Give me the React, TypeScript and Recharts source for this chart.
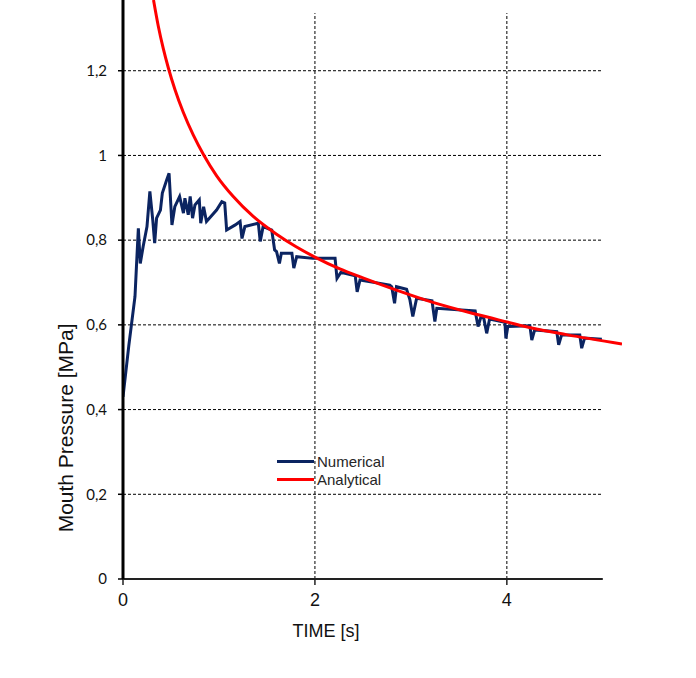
import React from "react";
import { LineChart, Line, XAxis, YAxis, ReferenceLine, Legend } from "recharts";

const numericalX = [
  0.0, 0.06, 0.125, 0.14, 0.16, 0.18, 0.21, 0.25, 0.28, 0.31, 0.33, 0.35, 0.39, 0.41, 0.455, 0.48,
  0.51, 0.54, 0.59, 0.63, 0.645, 0.68, 0.7, 0.725, 0.75, 0.795, 0.81, 0.84, 0.87, 0.975, 1.03, 1.06,
  1.08, 1.17, 1.22, 1.24, 1.27, 1.41, 1.43, 1.46, 1.55, 1.58, 1.6, 1.63, 1.65, 1.76, 1.78, 1.81,
  1.98, 2.21, 2.23, 2.27, 2.42, 2.44, 2.47, 2.78, 2.8, 2.83, 2.85, 2.955, 2.99, 3.02, 3.06, 3.22,
  3.25, 3.27, 3.67, 3.7, 3.73, 3.76, 3.79, 3.82, 3.98, 3.99, 4.01, 4.24, 4.26, 4.29, 4.52, 4.54,
  4.57, 4.76, 4.78, 4.81, 4.99,
];
const numericalY = [
  0.43, 0.55, 0.667, 0.737, 0.828, 0.745, 0.785, 0.832, 0.915, 0.848, 0.793, 0.852, 0.871, 0.911, 0.942, 0.958,
  0.836, 0.879, 0.903, 0.864, 0.899, 0.86, 0.903, 0.852, 0.883, 0.895, 0.84, 0.879, 0.844, 0.871, 0.891, 0.888,
  0.824, 0.836, 0.844, 0.804, 0.832, 0.84, 0.797, 0.832, 0.824, 0.777, 0.773, 0.745, 0.769, 0.769, 0.734, 0.761,
  0.757, 0.757, 0.71, 0.724, 0.716, 0.678, 0.706, 0.694, 0.69, 0.651, 0.69, 0.684, 0.659, 0.62, 0.663, 0.657,
  0.608, 0.639, 0.633, 0.596, 0.619, 0.615, 0.58, 0.614, 0.606, 0.568, 0.596, 0.598, 0.564, 0.588, 0.584, 0.553,
  0.576, 0.576, 0.545, 0.569, 0.566,
];

const analyticalX = [
  0.318, 0.368, 0.42, 0.472, 0.542, 0.628, 0.733, 0.844, 0.976, 1.149, 1.357, 1.6, 1.8, 2.0, 2.26, 2.5,
  2.85, 3.23, 3.68, 4.0, 4.27, 4.62, 5.2,
];
const analyticalY = [
  1.367, 1.305, 1.252, 1.207, 1.155, 1.102, 1.048, 1.0, 0.952, 0.903, 0.856, 0.814, 0.785, 0.76, 0.732, 0.711,
  0.682, 0.653, 0.625, 0.607, 0.592, 0.577, 0.555,
];

const xTicks = [0, 2, 4];
const yTicks = [0, 0.2, 0.4, 0.6, 0.8, 1, 1.2];
const hGridValues = [0.2, 0.4, 0.6, 0.8, 1, 1.2];
const vGridValues = [2, 4];
const xMax = 5.2;
const yMax = 1.367;
const gridEndX = 5;
const gridTopY = 1.336;

const seriesNames = ["Numerical", "Analytical"];
const BLUE = "#0b2461";
const RED = "#ff0000";

const numericalData = numericalX.map((x, i) => ({ x, y: numericalY[i] }));
const analyticalData = analyticalX.map((x, i) => ({ x, y: analyticalY[i] }));

const fmt = (v: number) => String(v).replace(".", ",");

const LegendBox = () => (
  <div style={{ fontFamily: "Arial, 'Liberation Sans', sans-serif", fontSize: 15, color: "#262626" }}>
    {[BLUE, RED].map((c, i) => (
      <div key={i} style={{ display: "flex", alignItems: "center", height: 18 }}>
        <div style={{ width: 37, height: 3, background: c, marginRight: 3 }} />
        <span>{seriesNames[i]}</span>
      </div>
    ))}
  </div>
);

const YLabel = (props: any) => {
  const vb = props.viewBox || {};
  const x = vb.x + 10;
  const y = vb.y + vb.height * 0.739;
  return (
    <text
      x={x}
      y={y}
      transform={`rotate(-90, ${x}, ${y})`}
      textAnchor="middle"
      fontFamily="Arial, 'Liberation Sans', sans-serif"
      fontSize={21}
      fill="#111"
    >
      Mouth Pressure [MPa]
    </text>
  );
};

const XLabel = (props: any) => {
  const vb = props.viewBox || {};
  const x = vb.x + 203;
  const y = vb.y + 58;
  return (
    <text
      x={x}
      y={y}
      textAnchor="middle"
      fontFamily="Arial, 'Liberation Sans', sans-serif"
      fontSize={18}
      fill="#111"
    >
      TIME [s]
    </text>
  );
};

export default function App() {
  return (
    <div style={{ position: "absolute", left: 0, top: 0, width: 696, height: 678, background: "#fff" }}>
      <LineChart width={696} height={678} margin={{ top: 0, right: 74, bottom: 59, left: 63 }}>
        <XAxis
          type="number"
          dataKey="x"
          domain={[0, xMax]}
          ticks={xTicks}
          allowDataOverflow
          axisLine={false}
          tickLine={{ stroke: "#222", strokeWidth: 1.5 }}
          tickSize={6}
          tickMargin={8}
          height={40}
          tick={{ fontFamily: "Arial, 'Liberation Sans', sans-serif", fontSize: 18, fill: "#111" }}
          label={<XLabel />}
        />
        <YAxis
          type="number"
          dataKey="y"
          domain={[0, yMax]}
          ticks={yTicks}
          allowDataOverflow
          tickFormatter={fmt}
          axisLine={{ stroke: "#000", strokeWidth: 3 }}
          tickLine={{ stroke: "#000", strokeWidth: 1.5 }}
          tickSize={5}
          tickMargin={11}
          width={60}
          tick={{ fontFamily: "Lato, 'Open Sans', sans-serif", fontSize: 15, fill: "#111" }}
          label={<YLabel />}
        />
        {hGridValues.map((v) => (
          <ReferenceLine
            key={"h" + v}
            segment={[{ x: 0, y: v }, { x: gridEndX, y: v }]}
            stroke="#000"
            strokeWidth={1}
            strokeDasharray="3 2"
          />
        ))}
        {vGridValues.map((v) => (
          <ReferenceLine
            key={"v" + v}
            segment={[{ x: v, y: 0 }, { x: v, y: gridTopY }]}
            stroke="#000"
            strokeWidth={1}
            strokeDasharray="3 2"
          />
        ))}
        <ReferenceLine segment={[{ x: 0, y: 0 }, { x: gridEndX, y: 0 }]} stroke="#222" strokeWidth={2} />
        <Line
          data={numericalData}
          dataKey="y"
          name={seriesNames[0]}
          type="linear"
          stroke={BLUE}
          strokeWidth={3}
          dot={false}
          isAnimationActive={false}
        />
        <Line
          data={analyticalData}
          dataKey="y"
          name={seriesNames[1]}
          type="monotone"
          stroke={RED}
          strokeWidth={3}
          dot={false}
          isAnimationActive={false}
        />
        <Legend
          layout="vertical"
          align="center"
          verticalAlign="middle"
          content={() => <LegendBox />}
          wrapperStyle={{ position: "absolute", left: 277, top: 452, width: "auto", height: "auto" }}
        />
      </LineChart>
    </div>
  );
}
